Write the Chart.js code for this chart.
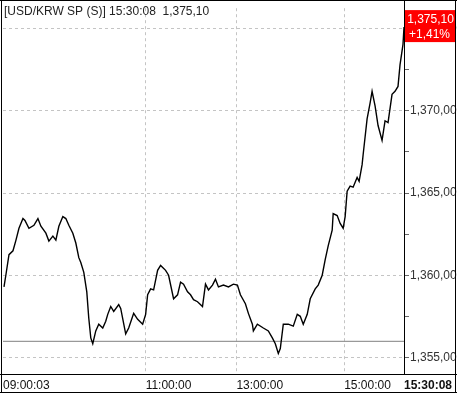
<!DOCTYPE html>
<html>
<head>
<meta charset="utf-8">
<script src="https://cdn.jsdelivr.net/npm/chart.js@4/dist/chart.umd.min.js"></script>
<style>
html, body { margin: 0; padding: 0; background: #fff; }
canvas { display: block; }
</style>
</head>
<body>
<canvas id="myChart" width="457" height="393"></canvas>
<script>
// sample index along the session (ticks are not evenly spaced in time)
var idx = [1,3,6,10,13,16,20,22,26,31,35,38,43,46,50,53,56,60,63,66,
    70,73,76,78,81,84,86,88,90,93,96,100,103,105,108,111,116,118,123,126,
    131,135,140,143,145,148,151,155,158,163,166,171,175,178,181,185,188,191,195,200,
    203,206,210,213,216,221,226,231,235,238,243,246,250,251,255,261,266,270,273,276,
    278,281,286,291,295,298,301,305,308,313,316,320,323,326,330,331,335,338,341,343,
    345,348,351,355,357,360,361,365,368,370,373,376,380,383,386,390,393,396,398,401,402];

var price = [1359.29,1360.06,1361.25,1361.49,1362.14,1362.86,1363.45,1363.33,1362.86,1363.04,
    1363.45,1362.98,1362.56,1362.08,1362.38,1362.14,1362.98,1363.57,1363.45,1363.04,
    1362.56,1361.96,1361.07,1360.77,1360.18,1358.99,1357.38,1356.19,1355.83,1356.61,
    1357.02,1356.79,1357.20,1357.62,1358.10,1357.80,1358.21,1357.98,1356.43,1356.79,
    1357.68,1357.32,1357.02,1357.62,1358.81,1359.17,1359.11,1360.30,1360.60,1360.30,
    1360.00,1358.57,1358.81,1359.58,1359.46,1358.99,1358.81,1358.51,1358.39,1358.10,
    1359.46,1359.11,1359.40,1359.76,1359.29,1359.40,1359.29,1359.46,1359.40,1358.81,
    1358.27,1357.68,1357.02,1356.61,1357.02,1356.79,1356.61,1356.19,1355.83,1355.24,
    1355.54,1357.02,1357.02,1356.90,1357.62,1357.50,1357.02,1357.62,1358.57,1359.17,
    1359.40,1360.00,1360.95,1361.79,1362.74,1363.75,1363.63,1363.15,1362.86,1363.57,
    1365.12,1365.42,1365.36,1365.95,1365.71,1366.73,1367.32,1369.52,1370.48,1371.19,
    1370.30,1369.11,1368.21,1369.40,1369.29,1371.01,1371.19,1371.49,1372.80,1374.05,
    1375.10];

var tickIdx = [0, 143, 234, 342, 402];
var tickLabels = ['09:00:03', '11:00:00', '13:00:00', '15:00:00', '15:30:08'];
var yTicks = [1355, 1357.5, 1360, 1362.5, 1365, 1367.5, 1370, 1372.5, 1375];

var prevClose = 1355.98;
var lastPrice = 1375.10;
var changeText = '+1,41%';
var titleText = '[USD/KRW SP (S)] 15:30:08  1,375,10';

var FONT = 'Liberation Sans';

// 1375.1 -> "1,375,10"
function fmt(v) {
    var s = v.toFixed(2).split('.');
    return s[0].replace(/\B(?=(\d{3})+(?!\d))/g, ',') + ',' + s[1];
}

var framePlugin = {
    id: 'frame',
    afterDraw: function (chart) {
        var ctx = chart.ctx;
        var ca = chart.chartArea;
        var W = chart.width, H = chart.height;
        ctx.save();
        ctx.strokeStyle = '#000';
        ctx.lineWidth = 1;
        ctx.beginPath();
        ctx.moveTo(0, 0.5); ctx.lineTo(W, 0.5);
        ctx.moveTo(1.5, 0); ctx.lineTo(1.5, H);
        ctx.moveTo(ca.right + 0.5, 0); ctx.lineTo(ca.right + 0.5, ca.bottom);
        ctx.moveTo(0, ca.bottom - 0.5); ctx.lineTo(W, ca.bottom - 0.5);
        ctx.moveTo(0, H - 0.5); ctx.lineTo(W, H - 0.5);
        ctx.moveTo(W - 1.5, 0); ctx.lineTo(W - 1.5, H);
        ctx.stroke();

        // title
        ctx.fillStyle = '#222';
        ctx.font = '12px "' + FONT + '"';
        ctx.textBaseline = 'middle';
        ctx.textAlign = 'left';
        ctx.fillText(titleText, 4, 12);

        // current price box
        var y = chart.scales.y.getPixelForValue(lastPrice);
        var top = Math.max(2, y - 17);
        ctx.fillStyle = '#ff0000';
        ctx.fillRect(ca.right + 1, top, W - ca.right - 3, 32);
        ctx.fillStyle = '#fff';
        ctx.textAlign = 'center';
        var cx = (ca.right + W - 2) / 2;
        ctx.fillText(fmt(lastPrice), cx + 1, top + 10);
        ctx.fillText(changeText, cx, top + 25);
        ctx.restore();
    }
};

var ctx = document.getElementById('myChart').getContext('2d');

var chart = new Chart(ctx, {
    type: 'line',
    data: {
        datasets: [{
            data: idx.map(function (v, i) { return { x: v, y: price[i] }; }),
            borderColor: '#000',
            borderWidth: 1.4,
            pointRadius: 0,
            tension: 0
        }, {
            // previous close
            data: [{ x: 0, y: prevClose }, { x: 402, y: prevClose }],
            borderColor: '#808080',
            borderWidth: 1,
            pointRadius: 0
        }]
    },
    options: {
        responsive: false,
        animation: false,
        devicePixelRatio: 1,
        layout: { padding: { left: 2, top: 0, right: 0, bottom: 0 } },
        plugins: { legend: { display: false }, tooltip: { enabled: false } },
        scales: {
            x: {
                type: 'linear',
                min: 0,
                max: 402,
                afterBuildTicks: function (s) { s.ticks = tickIdx.map(function (v) { return { value: v }; }); },
                afterFit: function (s) { s.height = 18; },
                ticks: {
                    autoSkip: false,
                    maxRotation: 0,
                    align: 'start',
                    padding: 3,
                    color: '#111',
                    font: function (c) { return { family: FONT, size: 12, weight: c.index === 4 ? 'bold' : 'normal' }; },
                    callback: function (v, i) { return tickLabels[i]; }
                },
                grid: {
                    color: function (c) { return (c.index > 0 && c.index < 4) ? '#c4c4c4' : 'rgba(0,0,0,0)'; },
                    drawTicks: false
                },
                border: { display: false, dash: [3, 3] }
            },
            y: {
                position: 'right',
                min: 1353.93,
                max: 1376.25,
                afterBuildTicks: function (s) { s.ticks = yTicks.map(function (v) { return { value: v }; }); },
                afterFit: function (s) { s.width = 53; },
                ticks: {
                    padding: 1,
                    color: '#333',
                    font: { family: FONT, size: 12 },
                    callback: function (v) { return v % 5 === 0 ? fmt(v) : ''; }
                },
                grid: {
                    color: function (c) { return c.tick && c.tick.value % 5 === 0 ? '#c4c4c4' : 'rgba(0,0,0,0)'; },
                    tickColor: '#666',
                    tickLength: 5
                },
                border: { display: false, dash: [3, 3] }
            }
        }
    },
    plugins: [framePlugin]
});
</script>
</body>
</html>
